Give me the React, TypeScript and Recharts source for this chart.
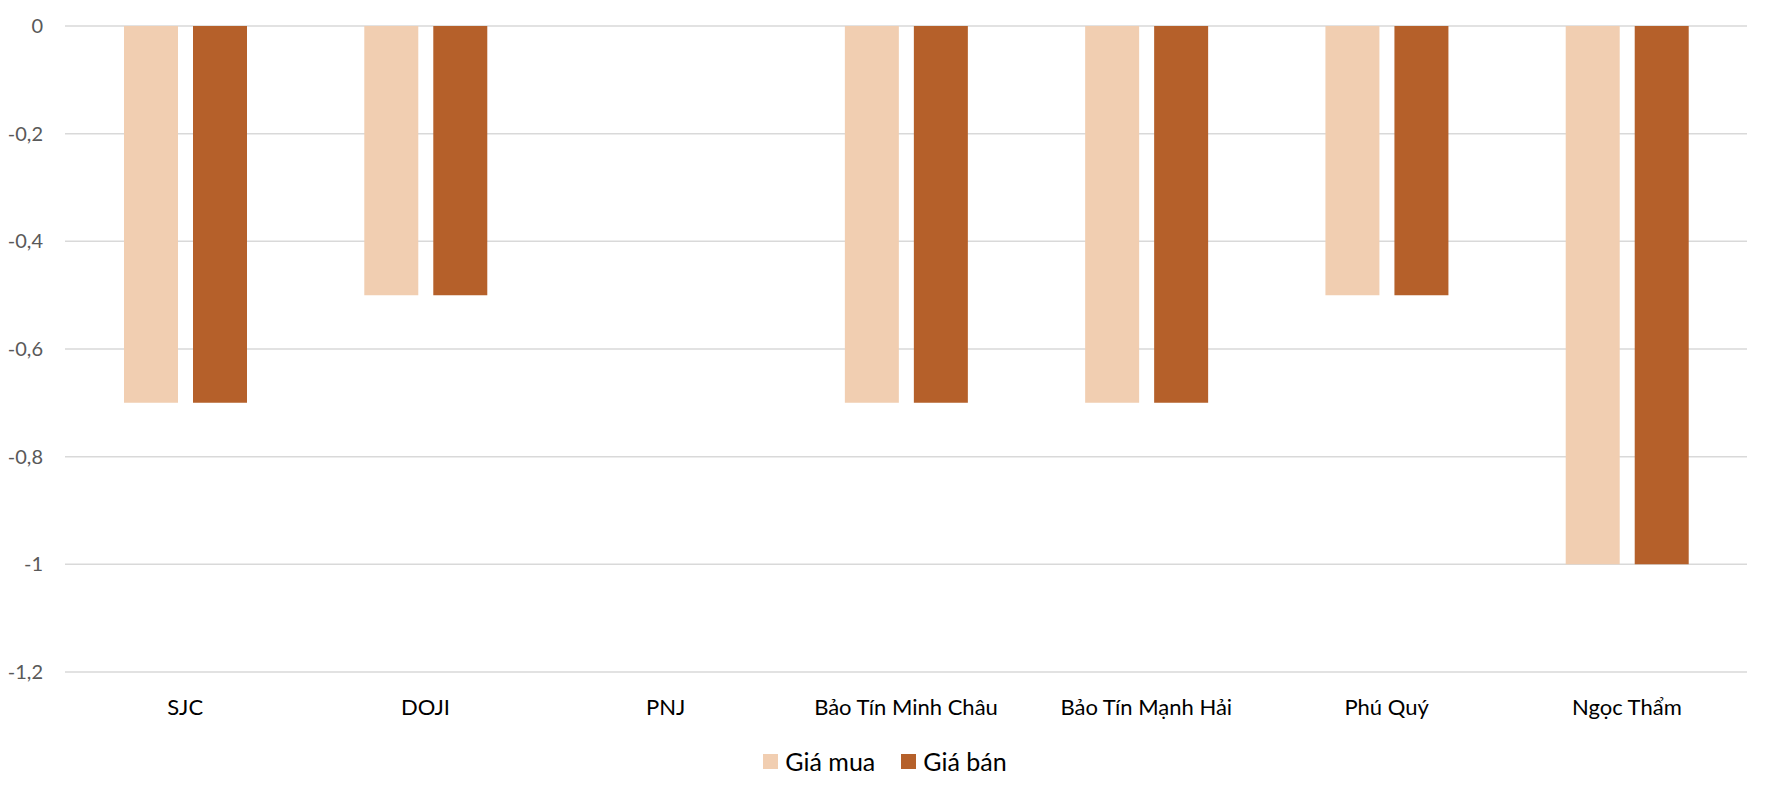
import { BarChart, Bar, XAxis, YAxis, CartesianGrid } from 'recharts';

// Thay đổi giá vàng (triệu đồng/lượng)
const CATEGORIES = ['SJC', 'DOJI', 'PNJ', 'Bảo Tín Minh Châu', 'Bảo Tín Mạnh Hải', 'Phú Quý', 'Ngọc Thẩm'];
const GIA_MUA = [-0.7, -0.5, 0, -0.7, -0.7, -0.5, -1];
const GIA_BAN = [-0.7, -0.5, 0, -0.7, -0.7, -0.5, -1];
const Y_TICKS = [0, -0.2, -0.4, -0.6, -0.8, -1, -1.2];

const SERIES = [
  { key: 'mua', name: 'Giá mua', color: '#F1CEB1' },
  { key: 'ban', name: 'Giá bán', color: '#B5602A' },
];

const FONT = 'Lato, "Open Sans", sans-serif';

const data = CATEGORIES.map((name, i) => ({ name, mua: GIA_MUA[i], ban: GIA_BAN[i] }));

function LegendBox() {
  return (
    <div
      style={{
        position: 'absolute',
        left: 0,
        top: 746,
        width: 1770,
        height: 30,
        display: 'flex',
        justifyContent: 'center',
        alignItems: 'center',
        fontFamily: FONT,
        fontSize: 25,
        color: '#000',
      }}
    >
      {SERIES.map((s, i) => (
        <div key={s.key} style={{ display: 'flex', alignItems: 'center', marginLeft: i === 0 ? 0 : 26 }}>
          <span style={{ width: 15, height: 15, background: s.color, display: 'inline-block', marginRight: 7 }} />
          <span>{s.name}</span>
        </div>
      ))}
    </div>
  );
}

export default function App() {
  return (
    <div style={{ position: 'absolute', left: 0, top: 0, width: 1770, height: 792, background: '#fff' }}>
      <BarChart width={1770} height={792} data={data} margin={{ top: 26, right: 23, bottom: 90, left: 0 }} barGap={15} barSize={54}>
        <CartesianGrid vertical={false} stroke="#d9d9d9" strokeWidth={1.5} />
        <XAxis
          dataKey="name"
          height={30}
          axisLine={false}
          tickLine={false}
          tickSize={0}
          tickMargin={27}
          interval={0}
          tick={{ fill: '#000', fontSize: 22, fontFamily: FONT }}
        />
        <YAxis
          width={65}
          domain={[-1.2, 0]}
          ticks={Y_TICKS}
          axisLine={false}
          tickLine={false}
          tickSize={0}
          tickMargin={22}
          tickFormatter={(v: number) => String(v).replace('.', ',')}
          tick={{ fill: '#595959', fontSize: 20, fontFamily: FONT }}
        />
        {SERIES.map((s) => (
          <Bar key={s.key} dataKey={s.key} name={s.name} fill={s.color} isAnimationActive={false} />
        ))}
      </BarChart>
      <LegendBox />
    </div>
  );
}
